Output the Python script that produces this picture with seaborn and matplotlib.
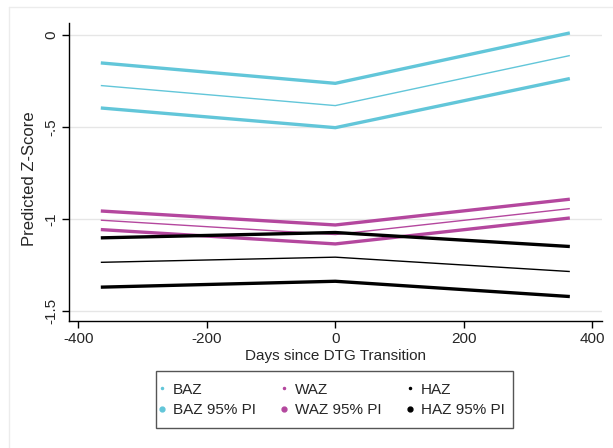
import matplotlib
matplotlib.use("Agg")
import matplotlib.pyplot as plt
from matplotlib.lines import Line2D
from matplotlib.patches import Rectangle
import seaborn as sns
import pandas as pd

days = [-365, 0, 365]

baz = [-0.275, -0.384, -0.112]
baz_hi = [-0.152, -0.263, 0.011]
baz_lo = [-0.397, -0.504, -0.237]

waz = [-1.007, -1.085, -0.944]
waz_hi = [-0.957, -1.033, -0.893]
waz_lo = [-1.058, -1.136, -0.995]

haz = [-1.236, -1.208, -1.286]
haz_hi = [-1.103, -1.074, -1.150]
haz_lo = [-1.371, -1.339, -1.422]

yticks = [0, -0.5, -1, -1.5]
ytick_labels = ["0", "-.5", "-1", "-1.5"]
xticks = [-400, -200, 0, 200, 400]

c_baz = "#62c6d9"
c_waz = "#b4479e"
c_haz = "#000000"

sns.set_theme(style="white")
plt.rcParams["font.family"] = ["Liberation Sans", "DejaVu Sans"]
plt.rcParams["axes.unicode_minus"] = False

W, H = 613, 448
fig = plt.figure(figsize=(W / 100, H / 100), dpi=100)
ax = fig.add_axes([69 / W, 1 - 321 / H, (601.7 - 69) / W, (321 - 23) / H])

rows = []
for name, series in [("BAZ", [(baz, "mean"), (baz_hi, "hi"), (baz_lo, "lo")]),
                     ("WAZ", [(waz, "mean"), (waz_hi, "hi"), (waz_lo, "lo")]),
                     ("HAZ", [(haz, "mean"), (haz_hi, "hi"), (haz_lo, "lo")])]:
    for vals, kind in series:
        for d, v in zip(days, vals):
            rows.append({"group": name, "kind": kind, "line": f"{name}_{kind}", "day": d, "z": v})
df = pd.DataFrame(rows)

colors = {"BAZ": c_baz, "WAZ": c_waz, "HAZ": c_haz}
for line_id, sub in df.groupby("line", sort=False):
    g = sub["group"].iloc[0]
    k = sub["kind"].iloc[0]
    lw = 1.0 if k == "mean" else 2.4
    sns.lineplot(data=sub, x="day", y="z", ax=ax, color=colors[g], lw=lw,
                 legend=False, solid_capstyle="butt", zorder=3)

ax.set_xlim(-414.5, 414.6)
ax.set_ylim(-1.555, 0.065)
ax.set_yticks(yticks)
ax.set_yticklabels(ytick_labels, rotation=90, va="center")
ax.set_xticks(xticks)
ax.yaxis.grid(True, color="#e6e6e6", lw=1.0)
ax.xaxis.grid(False)
ax.set_axisbelow(True)
for s in ["top", "right"]:
    ax.spines[s].set_visible(False)
for s in ["left", "bottom"]:
    ax.spines[s].set_color("black")
    ax.spines[s].set_linewidth(1.0)
ax.tick_params(axis="both", direction="out", length=5, width=1, color="black",
               labelsize=11, pad=3, bottom=True, left=True)
ax.set_xlabel("Days since DTG Transition", fontsize=11, labelpad=2)
ax.set_ylabel("Predicted Z-Score", fontsize=12, labelpad=5)
ax.yaxis.label.set_y((321 - 179) / (321 - 23))

handles = [
    Line2D([], [], ls="none", marker="o", ms=1.5, color=c_baz),
    Line2D([], [], ls="none", marker="o", ms=3.5, color=c_baz),
    Line2D([], [], ls="none", marker="o", ms=1.5, color=c_waz),
    Line2D([], [], ls="none", marker="o", ms=3.5, color=c_waz),
    Line2D([], [], ls="none", marker="o", ms=1.5, color=c_haz),
    Line2D([], [], ls="none", marker="o", ms=3.5, color=c_haz),
]
labels = ["BAZ", "BAZ 95% PI", "WAZ", "WAZ 95% PI", "HAZ", "HAZ 95% PI"]
leg = fig.legend(handles, labels, ncol=3, loc="center",
                 bbox_to_anchor=(331.8 / W, 1 - 400 / H),
                 fontsize=11, frameon=False,
                 handlelength=0.4, handletextpad=0.52, columnspacing=1.65,
                 labelspacing=0.45, borderpad=0.0)

# legend box
fig.add_artist(Rectangle((155.7 / W, 1 - 428.3 / H), (513.3 - 155.7) / W, (428.3 - 371) / H,
                         transform=fig.transFigure, fill=False, edgecolor="#555555", lw=1.0))

# light outer frame of the graph region
fig.add_artist(Line2D([9 / W, 1.0], [1 - 7 / H, 1 - 7 / H], color="#ececec", lw=1,
                      transform=fig.transFigure))
fig.add_artist(Line2D([9 / W, 9 / W], [0, 1 - 7 / H], color="#ececec", lw=1,
                      transform=fig.transFigure))

fig.savefig("out.png", dpi=100)
